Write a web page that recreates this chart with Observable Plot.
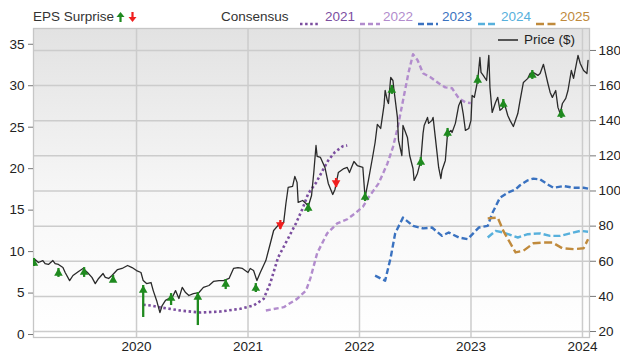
<!DOCTYPE html>
<html>
<head>
<meta charset="utf-8">
<script src="https://cdn.jsdelivr.net/npm/d3@7"></script>
<script src="https://cdn.jsdelivr.net/npm/@observablehq/plot@0.6"></script>
<style>
  html, body { margin: 0; padding: 0; background: #ffffff; }
  #wrap { position: relative; width: 620px; height: 362px; font-family: "Liberation Sans", Arial, sans-serif; color: #333; overflow: hidden; }
  #legend { position: relative; height: 22px; font-size: 13.5px; }
  .lg { position: absolute; top: 9px; line-height: 15px; white-space: nowrap; }
  .lgs { position: absolute; top: 9px; }
  #priceLegend { position: absolute; left: 497px; top: 32px; font-size: 13.5px; line-height: 16px; white-space: nowrap; }
</style>
</head>
<body>
<div id="wrap">
  <div id="legend"></div>
  <div id="chart"></div>
  <div id="priceLegend"></div>
</div>
<script>
// ---------- data ----------
const yearTicks = [2020, 2021, 2022, 2023, 2024];
const epsTicks = [0, 5, 10, 15, 20, 25, 30, 35];
const priceTicks = [20, 40, 60, 80, 100, 120, 140, 160, 180];
const consensusYears = ["2021", "2022", "2023", "2024", "2025"];
const consensusColors = ["#7b4e9f", "#b28ccd", "#3a72c0", "#57b0dc", "#c08a3c"];

// weekly price ($), [decimal year, price]
const price = [
  [2019.08,59.9],[2019.09,61.0],[2019.12,59.3],[2019.16,60.4],[2019.18,58.7],[2019.21,58.2],
  [2019.25,60.4],[2019.27,58.7],[2019.30,58.2],[2019.34,56.4],[2019.36,53.6],[2019.40,49.0],
  [2019.43,51.9],[2019.48,54.2],[2019.52,55.9],[2019.56,53.6],[2019.60,50.8],[2019.63,47.3],
  [2019.66,50.2],[2019.70,53.0],[2019.72,50.8],[2019.75,50.2],[2019.78,51.9],[2019.83,55.3],
  [2019.87,55.9],[2019.92,57.6],[2019.96,56.4],[2020.00,54.7],[2020.04,53.6],[2020.06,49.0],
  [2020.09,47.3],[2020.13,47.9],[2020.15,43.3],[2020.18,37.7],[2020.21,30.8],[2020.23,34.8],
  [2020.26,37.7],[2020.29,38.8],[2020.32,39.4],[2020.35,43.3],[2020.38,38.8],[2020.41,45.1],
  [2020.44,42.2],[2020.47,40.5],[2020.51,41.6],[2020.56,42.2],[2020.60,45.1],[2020.65,46.2],
  [2020.69,48.5],[2020.74,49.0],[2020.78,49.0],[2020.83,50.2],[2020.87,55.9],[2020.91,56.4],
  [2020.95,55.9],[2021.00,53.6],[2021.02,55.9],[2021.05,54.7],[2021.08,49.0],[2021.11,53.6],
  [2021.16,60.4],[2021.20,70.1],[2021.23,77.5],[2021.27,80.4],[2021.32,82.1],[2021.34,92.9],
  [2021.36,102.0],[2021.40,102.6],[2021.42,108.3],[2021.44,104.9],[2021.45,93.5],[2021.49,94.6],
  [2021.52,92.9],[2021.54,91.2],[2021.57,97.4],[2021.59,110.5],[2021.61,125.9],[2021.62,119.7],
  [2021.65,119.1],[2021.69,113.4],[2021.72,104.3],[2021.76,98.0],[2021.78,100.9],[2021.81,110.5],
  [2021.86,112.8],[2021.89,113.4],[2021.91,110.5],[2021.95,116.8],[2021.98,114.5],[2022.03,113.4],
  [2022.05,96.3],[2022.08,106.0],[2022.12,120.2],[2022.14,127.6],[2022.16,137.9],[2022.19,135.6],
  [2022.22,148.7],[2022.23,157.2],[2022.25,151.5],[2022.26,149.8],[2022.28,164.6],[2022.30,162.9],
  [2022.31,157.2],[2022.34,141.9],[2022.35,128.8],[2022.38,120.2],[2022.39,137.3],[2022.43,130.5],
  [2022.45,120.2],[2022.48,112.8],[2022.49,106.0],[2022.52,110.0],[2022.55,117.4],[2022.57,132.8],
  [2022.58,137.3],[2022.61,141.9],[2022.62,138.5],[2022.65,140.2],[2022.66,141.9],[2022.68,130.5],
  [2022.71,113.4],[2022.73,107.1],[2022.74,111.7],[2022.77,117.4],[2022.79,132.8],[2022.82,134.5],
  [2022.83,133.3],[2022.86,138.5],[2022.89,148.7],[2022.91,151.5],[2022.93,144.1],[2022.95,134.5],
  [2022.98,135.6],[2023.00,140.2],[2023.01,154.4],[2023.03,153.3],[2023.06,162.9],[2023.08,176.0],
  [2023.09,167.5],[2023.11,165.8],[2023.14,162.9],[2023.16,177.2],[2023.17,159.0],[2023.19,144.7],
  [2023.22,150.4],[2023.24,153.3],[2023.26,145.9],[2023.28,147.0],[2023.30,149.8],[2023.33,143.0],
  [2023.35,140.2],[2023.38,136.7],[2023.42,144.1],[2023.44,151.5],[2023.47,161.8],[2023.51,164.1],
  [2023.53,166.9],[2023.56,167.5],[2023.60,165.8],[2023.62,166.9],[2023.65,172.1],[2023.69,161.2],
  [2023.71,156.1],[2023.73,153.3],[2023.76,157.2],[2023.78,147.6],[2023.80,144.1],[2023.82,149.8],
  [2023.85,152.7],[2023.87,157.2],[2023.90,168.6],[2023.92,164.1],[2023.96,177.2],[2023.98,172.6],
  [2024.01,168.6],[2024.04,166.9],[2024.05,174.3]
];

// consensus EPS estimates, [decimal year, EPS]
const eps2021 = [
  [2020.06,3.6],[2020.13,3.5],[2020.22,3.26],[2020.39,2.9],[2020.57,2.65],[2020.75,2.77],
  [2020.93,3.1],[2021.05,3.5],[2021.14,4.3],[2021.20,6.2],[2021.27,9.3],[2021.36,11.6],
  [2021.43,13.4],[2021.49,15.2],[2021.54,17.0],[2021.61,18.3],[2021.67,19.8],[2021.72,21.0],
  [2021.78,22.0],[2021.85,22.7],[2021.89,22.8]
];
const eps2022 = [
  [2021.16,2.9],[2021.32,3.3],[2021.44,4.3],[2021.52,5.3],[2021.56,6.8],[2021.62,9.8],
  [2021.71,12.2],[2021.80,13.4],[2021.89,13.9],[2021.96,14.6],[2022.03,15.4],[2022.08,16.5],
  [2022.17,18.2],[2022.25,20.6],[2022.30,22.6],[2022.34,24.8],[2022.39,28.2],[2022.44,31.6],
  [2022.48,33.8],[2022.52,33.1],[2022.57,31.5],[2022.64,31.0],[2022.71,30.3],[2022.77,29.8],
  [2022.83,29.7],[2022.89,28.5],[2022.95,28.0],[2023.00,27.9]
];
const eps2023 = [
  [2022.14,7.1],[2022.23,6.5],[2022.28,9.3],[2022.32,12.2],[2022.39,14.1],[2022.48,13.1],
  [2022.57,12.8],[2022.65,12.9],[2022.74,11.9],[2022.80,12.3],[2022.89,11.7],[2022.97,11.5],
  [2023.02,12.2],[2023.07,12.9],[2023.15,13.1],[2023.19,14.6],[2023.26,16.5],[2023.33,17.1],
  [2023.40,17.5],[2023.44,18.0],[2023.51,18.6],[2023.56,18.8],[2023.62,18.7],[2023.70,18.0],
  [2023.74,17.7],[2023.83,17.9],[2023.92,17.7],[2024.01,17.7],[2024.05,17.6]
];
const eps2024 = [
  [2023.15,11.7],[2023.22,12.5],[2023.29,12.3],[2023.42,11.7],[2023.51,12.1],[2023.62,12.2],
  [2023.71,11.9],[2023.80,11.9],[2023.89,12.2],[2023.98,12.5],[2024.05,12.4]
];
const eps2025 = [
  [2023.15,14.0],[2023.24,14.1],[2023.29,12.5],[2023.40,9.9],[2023.47,10.1],[2023.56,11.0],
  [2023.65,11.1],[2023.73,11.1],[2023.82,10.4],[2023.92,10.3],[2024.01,10.4],[2024.05,11.5]
];

// EPS surprise markers: [decimal year, price at arrow tip, price at arrow tail]
const surpriseUp = [
  [2019.08,61.6,57.0],[2019.30,55.9,50.8],[2019.53,56.4,50.8],[2019.79,51.9,47.9],
  [2020.06,46.2,28.0],[2020.31,41.6,34.8],[2020.55,42.2,23.4],[2020.80,49.6,43.9],
  [2021.07,47.3,42.2],[2021.54,92.9,87.8],[2022.05,99.2,94.0],[2022.29,160.1,155.0],
  [2022.55,119.1,114.0],[2022.79,135.6,130.5],[2023.06,165.8,160.7],[2023.29,152.1,147.0],
  [2023.55,168.6,163.5],[2023.81,146.4,141.3]
];
const surpriseDown = [
  [2021.29,78.1,83.2],[2021.79,102.0,107.1]
];

// ---------- helpers ----------
// left (EPS) axis expressed in the price scale
const epsToPrice = e => 18.29 + 4.721 * e;
const priceToEps = p => (p - 18.29) / 4.721;
const toRows = (arr, key) => arr.map(([t, v]) => ({t, v: key === "eps" ? epsToPrice(v) : v}));
const epsSeries = [eps2021, eps2022, eps2023, eps2024, eps2025];
const dashes = ["2.5,2.6", "5,3", "6,3", "7,3", "8,3.5"];
const widths = [2.6, 2.4, 2.4, 2.4, 2.4];
const green = "#1f8a1f", red = "#f01e1e";
const ups = surpriseUp.map(([t, tip, tail]) => ({t, tip, tail}));
const downs = surpriseDown.map(([t, tip, tail]) => ({t, tip, tail}));

const font = "Liberation Sans, Arial, sans-serif";

const plot = Plot.plot({
  width: 620,
  height: 340,
  marginTop: 6,
  marginBottom: 25,
  marginLeft: 33,
  marginRight: 31,
  style: {fontFamily: font, fontSize: "13.5px", color: "#222", background: "transparent", overflow: "visible"},
  x: {type: "linear", domain: [2019.076, 2024.063], label: null},
  y: {domain: [16.6, 192.5], label: null},
  marks: [
    Plot.frame({fill: "url(#bgGrad)", stroke: "none"}),
    Plot.gridY(priceTicks, {stroke: "#cccccc", strokeOpacity: 1, strokeWidth: 1.5}),
    Plot.gridX(yearTicks, {stroke: "#cccccc", strokeOpacity: 1, strokeWidth: 1.5}),
    Plot.frame({stroke: "#c6c6c6", strokeWidth: 1.3}),
    Plot.axisX(yearTicks, {label: null, tickFormat: "d", tickSize: 0, tickPadding: 4, fill: "#222", fontSize: 13.5}),
    Plot.axisY(epsTicks.map(epsToPrice), {anchor: "left", label: null, tickSize: 5, tickPadding: 4, stroke: "#777",
      tickFormat: p => String(Math.round(priceToEps(p))), fill: "#222", fontSize: 13.5}),
    Plot.axisY(priceTicks, {anchor: "right", label: null, tickSize: 6, tickPadding: 3, stroke: "#777", fill: "#222", fontSize: 13.5}),
    ...epsSeries.map((s, i) => Plot.line(toRows(s, "eps"), {
      x: "t", y: "v", stroke: consensusColors[i], strokeWidth: widths[i],
      strokeDasharray: dashes[i], strokeLinecap: "butt", curve: "linear"
    })),
    Plot.line(toRows(price, "price"), {x: "t", y: "v", stroke: "#2a2a2a", strokeWidth: 1.3, strokeLinejoin: "round"}),
    Plot.ruleX(ups, {x: "t", y1: "tail", y2: "tip", stroke: green, strokeWidth: 2.3, clip: true}),
    Plot.dot(ups, {x: "t", y: "tip", symbol: "triangle", r: 3.2, fill: green, stroke: "none", dy: 4.8, clip: true}),
    Plot.ruleX(downs, {x: "t", y1: "tail", y2: "tip", stroke: red, strokeWidth: 2.3}),
    Plot.dot(downs, {x: "t", y: "tip", symbol: "triangle", r: 3.2, rotate: 180, fill: red, stroke: "none", dy: -4.8})
  ]
});

// background gradient for the plotting frame
const ns = "http://www.w3.org/2000/svg";
const defs = document.createElementNS(ns, "defs");
defs.innerHTML = '<linearGradient id="bgGrad" x1="0" y1="0" x2="0" y2="1">' +
  '<stop offset="0" stop-color="#e2e2e2"/><stop offset="0.55" stop-color="#f7f7f7"/>' +
  '<stop offset="1" stop-color="#ffffff"/></linearGradient>';
plot.insertBefore(defs, plot.firstChild);
document.getElementById("chart").appendChild(plot);

// ---------- legends ----------
const legend = document.getElementById("legend");
const arrowSvg = (color, down) => `<svg width="9" height="12" viewBox="0 0 9 12" style="display:inline-block">
  <g transform="${down ? "rotate(180 4.5 6)" : ""}"><polygon points="4.5,1 8.5,6 0.5,6" fill="${color}"/>
  <rect x="3.4" y="5" width="2.2" height="6" fill="${color}"/></g></svg>`;
function add(html, left, cls, extra) {
  const el = document.createElement("div");
  el.className = cls || "lg";
  el.style.left = left + "px";
  if (extra) Object.assign(el.style, extra);
  el.innerHTML = html;
  legend.appendChild(el);
}
add("EPS Surprise", 33);
add(arrowSvg(green, false), 116, "lgs", {top: "11px"});
add(arrowSvg(red, true), 128, "lgs", {top: "11px"});
add("Consensus", 221);
const sampleX = [300, 360, 418, 478, 536];
const textX = [325, 383, 442, 501, 560];
consensusYears.forEach((y, i) => {
  add(`<svg width="20" height="4"><line x1="0" y1="2" x2="20" y2="2" stroke="${consensusColors[i]}"
    stroke-width="2.4" stroke-dasharray="${dashes[i]}"/></svg>`, sampleX[i], "lgs", {top: "14px"});
  add(y, textX[i], "lg", {color: consensusColors[i]});
});
document.getElementById("priceLegend").innerHTML =
  '<svg width="22" height="10" style="vertical-align:middle"><line x1="1" y1="5" x2="21" y2="5" stroke="#555" stroke-width="2"/></svg>' +
  '<span style="margin-left:5px;color:#222">Price ($)</span>';
</script>
</body>
</html>
